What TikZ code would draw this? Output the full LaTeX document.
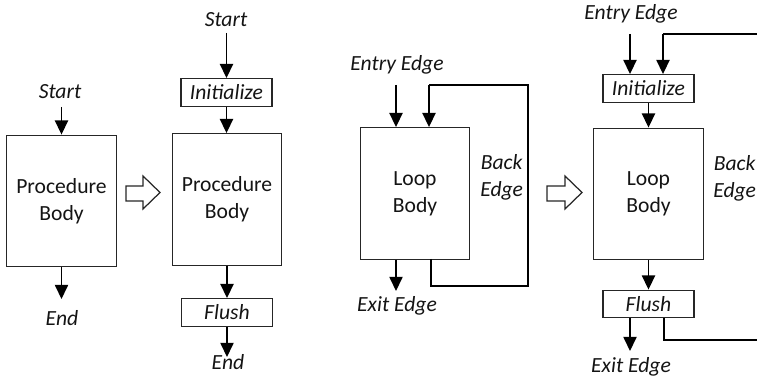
\documentclass[tikz,border=0pt]{standalone}
\usepackage{fontspec}
\setmainfont{Carlito}
\usetikzlibrary{arrows.meta}
\begin{document}
\begin{tikzpicture}[x=0.02cm,y=-0.02cm,
  every node/.style={font=\fontsize{12.3pt}{15.3pt}\selectfont, text=black!92, inner sep=0pt, align=center},
  bigbox/.style={draw=black!85, line width=0.8pt, minimum width=2.19cm, minimum height=2.63cm},
  smallbox/.style={draw=black!85, line width=0.8pt, minimum width=1.82cm, minimum height=0.55cm, font=\fontsize{12.3pt}{15.3pt}\selectfont\itshape},
  lbl/.style={font=\fontsize{12.3pt}{15.3pt}\selectfont\itshape},
  arr/.style={draw=black, line width=0.75pt, -{Triangle[width=7.5pt,length=8pt]}},
  backln/.style={draw=black, line width=1.2pt},
  hollow/.style={draw=black!85, line width=0.7pt, fill=white}]
\useasboundingbox (0,0) rectangle (757,384);
\clip (0,0) rectangle (757,384);

% ---------- Procedure (left) ----------
\node[lbl] (start1) at (60,92) {Start};
\node[bigbox] (body1) at (61.5,201) {Procedure\\Body};
\node[lbl] (end1) at (62,318) {End};
\coordinate (s1) at (61.5,107);
\coordinate (e1) at (61.5,299);
\draw[arr] (s1) -- (body1.north);
\draw[arr] (body1.south) -- (e1);

% hollow arrow 1
\draw[hollow] (126,186) -- (143,186) -- (143,176) -- (160,192.5) -- (143,209) -- (143,201) -- (126,201) -- cycle;

% ---------- Procedure (transformed) ----------
\node[lbl] (start2) at (226,20) {Start};
\node[smallbox] (init1) at (226.5,92.5) {Initialize};
\node[bigbox] (body2) at (227,199.5) {Procedure\\Body};
\node[smallbox] (flush1) at (227,312.5) {Flush};
\node[lbl] (end2) at (228,362) {End};
\coordinate (s2) at (226.5,33);
\coordinate (e2) at (227,357);
\draw[arr] (s2) -- (init1.north);
\draw[arr] (init1.south) -- (body2.north -| init1.south);
\draw[arr] (body2.south) -- (flush1.north);
\draw[arr] (flush1.south) -- (e2);

% ---------- Loop (left) ----------
\node[lbl] (entry1) at (397,65) {Entry Edge};
\node[bigbox] (loop1) at (415,193.5) {Loop\\Body};
\node[lbl, anchor=west, align=center] (back1) at (480,177) {Back\\Edge};
\node[lbl] (exit1) at (397,306) {Exit Edge};
\coordinate (en1) at (396,85);
\coordinate (bk1) at (429,85);
\coordinate (ex1) at (396,291);
\draw[arr] (en1) -- (en1 |- loop1.north);
\draw[backln] (431,259) -- (431,286) -- (528,286) -- (528,85) -- (bk1);
\draw[arr] (bk1) -- (bk1 |- loop1.north);
\draw[arr] (ex1 |- loop1.south) -- (ex1);

% hollow arrow 2
\draw[hollow] (547,186) -- (565,186) -- (565,176) -- (582,192.5) -- (565,209) -- (565,201) -- (547,201) -- cycle;

% ---------- Loop (transformed) ----------
\node[lbl] (entry2) at (631,14) {Entry Edge};
\node[smallbox] (init2) at (648.5,88.5) {Initialize};
\node[bigbox] (loop2) at (648.5,194) {Loop\\Body};
\node[smallbox] (flush2) at (648.5,304) {Flush};
\node[lbl, anchor=west, align=center] (back2) at (713,178) {Back\\Edge};
\node[lbl] (exit2) at (631,367) {Exit Edge};
\coordinate (en2) at (630,34);
\coordinate (bk2) at (663,34);
\coordinate (bkr) at (770,34);
\coordinate (fl2) at (664,318);
\coordinate (flr) at (770,340);
\coordinate (ex2) at (630,351);
\draw[arr] (en2) -- (en2 |- init2.north);
\draw[backln] (bkr) -- (bk2);
\draw[arr] (bk2) -- (bk2 |- init2.north);
\draw[arr] (init2.south) -- (loop2.north);
\draw[arr] (loop2.south) -- (flush2.north);
\draw[arr] (ex2 |- flush2.south) -- (ex2);
\draw[backln] (fl2) -- (664,340) -- (flr);
\end{tikzpicture}
\end{document}
